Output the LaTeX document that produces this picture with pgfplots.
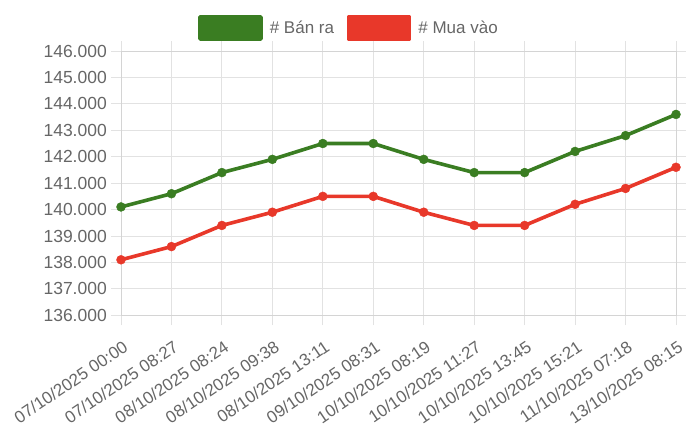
\documentclass[border=0pt]{standalone}
\usepackage{pgfplots}
\pgfplotsset{compat=1.18}
\usepackage{fontspec}
\setmainfont{Liberation Sans}
\definecolor{bangreen}{RGB}{58,125,34}
\definecolor{muared}{RGB}{232,56,42}
\definecolor{txt}{RGB}{102,102,102}
\definecolor{gridc}{RGB}{226,226,226}
\definecolor{axc}{RGB}{212,212,212}
\begin{document}
\begin{tikzpicture}[x=1pt,y=1pt]
\path[use as bounding box] (0,0) rectangle (700,434);
\begin{axis}[
  at={(121pt,118.7pt)}, anchor=south west,
  scale only axis, width=555pt, height=264.3pt,
  xmin=0, xmax=11, ymin=136000, ymax=146000,
  xtick={0,...,11},
  xticklabels={07/10/2025 00:00,07/10/2025 08:27,08/10/2025 08:24,08/10/2025 09:38,08/10/2025 13:11,09/10/2025 08:31,10/10/2025 08:19,10/10/2025 11:27,10/10/2025 13:45,10/10/2025 15:21,11/10/2025 07:18,13/10/2025 08:15},
  ytick={136000,137000,...,146000},
  scaled y ticks=false,
  /pgf/number format/fixed,
  /pgf/number format/precision=0,
  /pgf/number format/1000 sep={.},
  /pgf/number format/assume math mode=true,
  grid=major,
  major grid style={draw=gridc, line width=0.9pt},
  axis line style={draw=axc, line width=0.9pt},
  tick align=outside,
  major tick length=10pt,
  tick style={draw=gridc, line width=0.9pt},
  ticklabel style={font=\fontsize{17.5}{19}\selectfont, text=txt},
  xticklabel style={font=\fontsize{17}{19}\selectfont, rotate=34, anchor=north east, inner sep=1pt, xshift=-6pt, yshift=-11.5pt},
  yticklabel style={inner sep=4pt},
  legend columns=2,
  legend style={at={(0.409,1)}, anchor=center, yshift=23pt, draw=none, fill=none,
    font=\fontsize{17}{18}\selectfont, text=txt, inner sep=0pt,
    nodes={inner sep=0pt},
    /tikz/column sep=7pt,
    /tikz/every even column/.append style={column sep=12.7pt}},
  legend image code/.code={\fill (0pt,-11pt) rectangle (61pt,11pt);},
  every axis plot/.append style={line width=3.6pt, mark=*, mark size=4.5pt, line join=round},
]
\addplot[color=bangreen, mark options={solid, fill=bangreen, draw=bangreen, line width=0.4pt}] coordinates {
(0,140100) (1,140600) (2,141400) (3,141900) (4,142500) (5,142500)
(6,141900) (7,141400) (8,141400) (9,142200) (10,142800) (11,143600)};
\addlegendentry{\# Bán ra}
\addplot[color=muared, mark options={solid, fill=muared, draw=muared, line width=0.4pt}] coordinates {
(0,138100) (1,138600) (2,139400) (3,139900) (4,140500) (5,140500)
(6,139900) (7,139400) (8,139400) (9,140200) (10,140800) (11,141600)};
\addlegendentry{\# Mua vào}
\end{axis}
\end{tikzpicture}
\end{document}
